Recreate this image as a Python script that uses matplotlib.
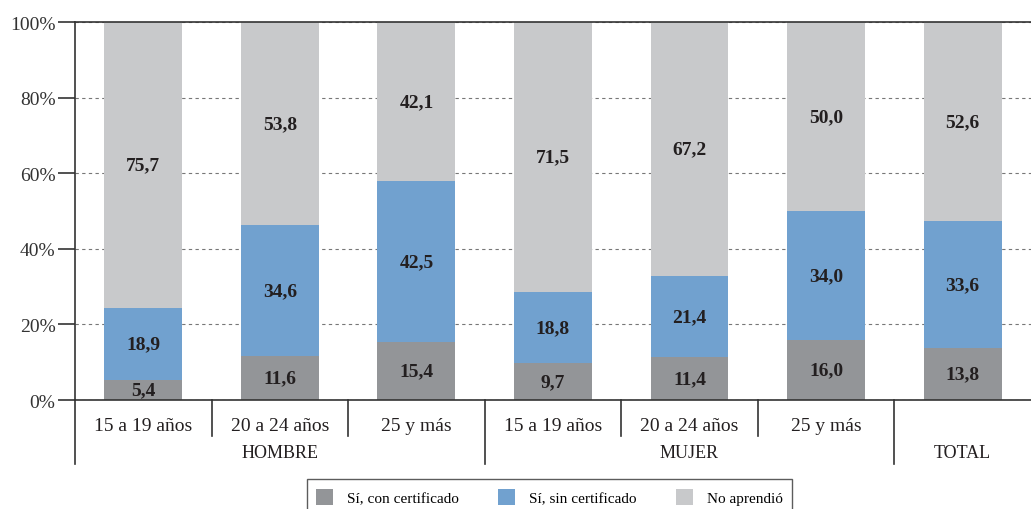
import matplotlib
matplotlib.use("Agg")
import matplotlib.pyplot as plt
from matplotlib.patches import Patch

plt.rcParams['font.family'] = ['Liberation Serif', 'DejaVu Serif']

categories = ["15 a 19 años", "20 a 24 años", "25 y más",
              "15 a 19 años", "20 a 24 años", "25 y más", ""]
groups = ["HOMBRE", "MUJER", "TOTAL"]
group_centers = [1, 4, 6]
group_edges = [-0.5, 2.5, 5.5]
inner_edges = [0.5, 1.5, 3.5, 4.5]

con_cert = [5.4, 11.6, 15.4, 9.7, 11.4, 16.0, 13.8]
sin_cert = [18.9, 34.6, 42.5, 18.8, 21.4, 34.0, 33.6]
no_aprendio = [75.7, 53.8, 42.1, 71.5, 67.2, 50.0, 52.6]

series_names = ["Sí, con certificado", "Sí, sin certificado", "No aprendió"]
colors = ["#939598", "#71a1cf", "#c8c9cb"]
txt = "#231f20"


def fmt(v):
    return ("%.1f" % v).replace(".", ",")


fig = plt.figure(figsize=(10.31, 5.10), dpi=100)
ax = fig.add_axes([0.0727, 0.2137, 0.9273, 0.7412])

x = list(range(len(categories)))
bottom = [0.0] * len(x)
for vals, col in zip([con_cert, sin_cert, no_aprendio], colors):
    ax.bar(x, vals, width=0.57, bottom=bottom, color=col, zorder=2)
    for i, v in enumerate(vals):
        ax.text(i, bottom[i] + v / 2, fmt(v), ha="center", va="center",
                fontsize=14, fontweight="bold", color=txt, zorder=3)
    bottom = [b + v for b, v in zip(bottom, vals)]

ax.set_xlim(-0.5, 6.5)
ax.set_ylim(0, 100)
ax.set_yticks([0, 20, 40, 60, 80, 100])
ax.set_yticklabels(["0%", "20%", "40%", "60%", "80%", "100%"])
ax.tick_params(axis="y", length=12, width=1.2, color="#333333",
               labelsize=14, labelcolor="#333333", pad=2)
ax.set_xticks([])
ax.yaxis.grid(True, linestyle=(0, (3, 3)), color="#777777", linewidth=0.8, zorder=0)

for s in ["left", "top", "bottom"]:
    ax.spines[s].set_color("#333333")
    ax.spines[s].set_linewidth(1.2)
ax.spines["right"].set_visible(False)

# category separators and labels below the axis
tr = ax.get_xaxis_transform()
for e in inner_edges:
    ax.plot([e, e], [0, -0.095], transform=tr, color="#333333", lw=1.2, clip_on=False)
for e in group_edges:
    ax.plot([e, e], [0, -0.17], transform=tr, color="#333333", lw=1.2, clip_on=False)
for i, c in enumerate(categories):
    ax.text(i, -0.068, c, transform=tr, ha="center", va="center",
            fontsize=14, color=txt)
for g, c in zip(groups, group_centers):
    ax.text(c, -0.14, g, transform=tr, ha="center", va="center",
            fontsize=13, color=txt)

handles = [Patch(facecolor=c, edgecolor="none") for c in colors]
leg = fig.legend(handles, series_names, loc="upper center", ncol=3,
                 bbox_to_anchor=(0.533, 0.073), frameon=True, fancybox=False,
                 fontsize=11, handlelength=1.1, handleheight=1.3,
                 columnspacing=2.6, handletextpad=0.9, borderpad=0.6)
leg.get_frame().set_edgecolor("#333333")
leg.get_frame().set_linewidth(1.0)

fig.savefig("out.png", dpi=100)
